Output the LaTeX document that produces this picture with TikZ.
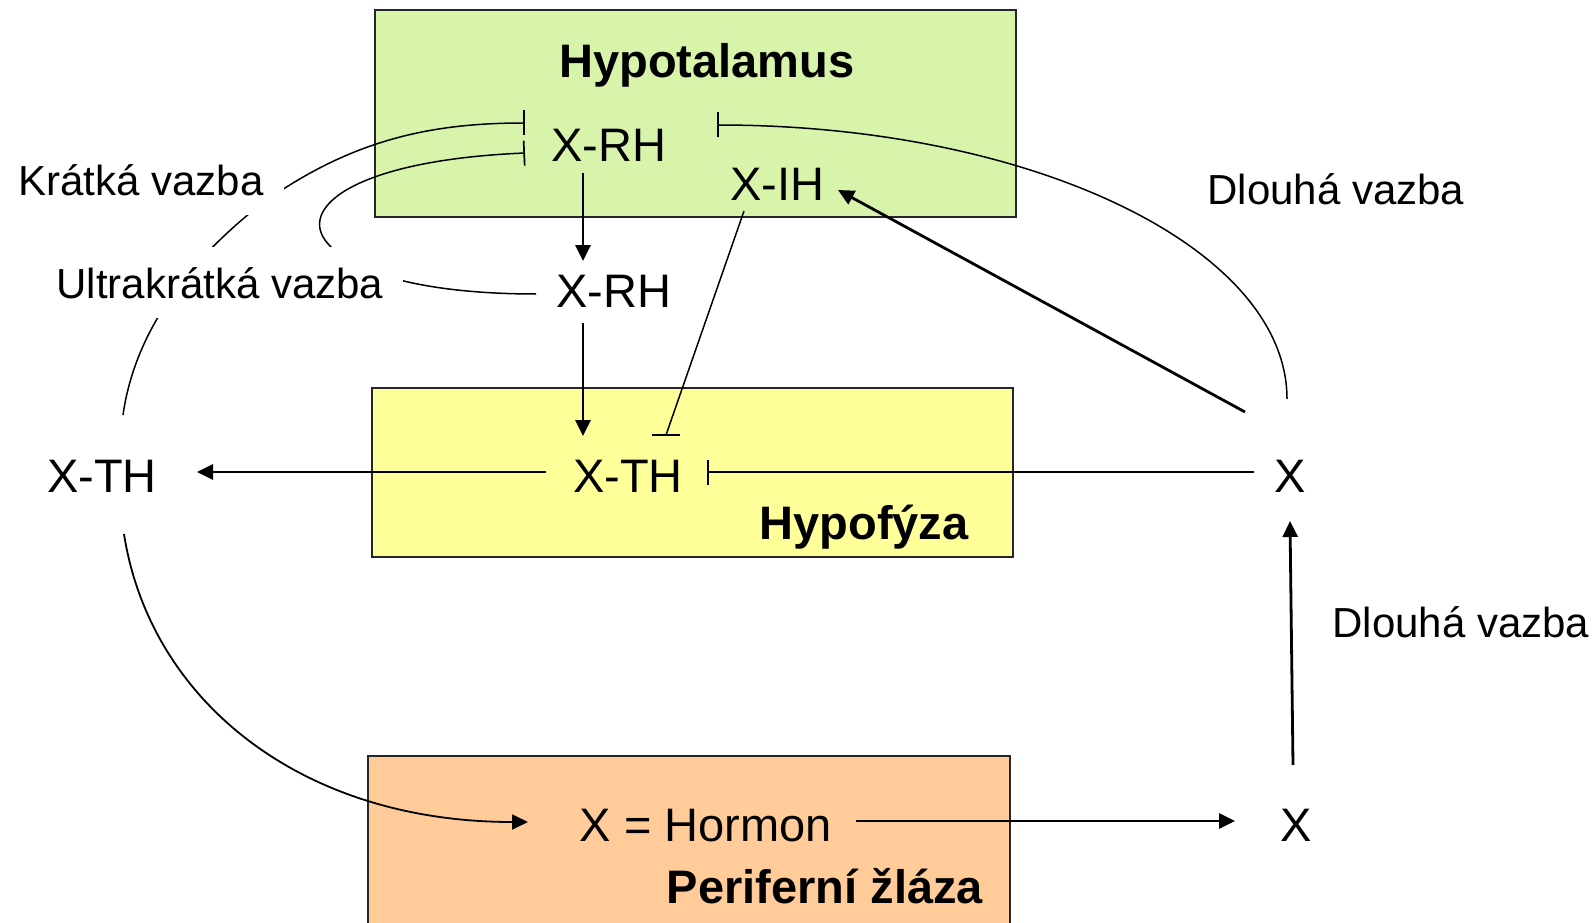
\documentclass[tikz,border=0pt]{standalone}
\usepackage{fontspec}
\setmainfont{Liberation Sans}
\usetikzlibrary{arrows.meta,calc}
\definecolor{hypo}{RGB}{216,243,170}
\definecolor{hypf}{RGB}{255,255,153}
\definecolor{peri}{RGB}{255,204,153}
\begin{document}
\begin{tikzpicture}[x=1pt,y=-1pt,
  big/.style={font=\fontsize{47}{56}\selectfont, anchor=base, inner sep=0pt},
  bigb/.style={anchor=base, inner sep=0pt, font=\fontsize{47}{56}\selectfont\bfseries},
  lab/.style={font=\fontsize{42}{50}\selectfont, anchor=base, fill=white, inner sep=20pt},
  labn/.style={font=\fontsize{42}{50}\selectfont, anchor=base, inner sep=0pt},
  box/.style={draw=black!85, line width=1.5pt},
  thinline/.style={line width=1.5pt},
  arr/.style={line width=2.8pt, -{Triangle[length=16pt,width=15pt]}},
  inh/.style={line width=1.5pt, -{Bar[width=25pt,line width=1.7pt]}}
]
\useasboundingbox (0,0) rectangle (1595,923);
\clip (0,0) rectangle (1595,923);
\fill[white] (0,0) rectangle (1595,923);

% boxes
\draw[box, fill=hypo] (375,10) rectangle (1016,217);
\draw[box, fill=hypf] (372,388) rectangle (1013,557);
\draw[box, fill=peri] (368,756) rectangle (1010,945);

% texts
\node[bigb] (hyp) at (707,78) {Hypotalamus};
\node[big] (rh1) at (609,161) {X-RH};
\node[big] (ih) at (777,200) {X-IH};
\node[big] (rh2) at (614,307) {X-RH};
\node[big] (th) at (628,492) {X-TH};
\node[bigb] (hpf) at (864,539) {Hypofýza};
\node[big] (thl) at (102,492) {X-TH};
\node[big] (xr) at (1290,492) {X};
\node[big] (hor) at (706,841) {X = Hormon};
\node[bigb] (per) at (825,903) {Periferní žláza};
\node[big] (xb) at (1296,841) {X};
\node[labn] (dl1) at (1336,204) {Dlouhá vazba};
\node[labn] (dl2) at (1461,637) {Dlouhá vazba};

% connector end points
\coordinate (rh1s) at (583,173);
\coordinate (rh2e) at (583,261);
\coordinate (rh2s) at (583,323);
\coordinate (the) at (583,436);
\coordinate (ths) at (546,472);
\coordinate (thle) at (197,472);
\coordinate (xrs) at (1254,472);
\coordinate (thbar) at (707,472);
\coordinate (ihs) at (744,211);
\coordinate (ihe) at (666,435);
\coordinate (xri) at (1245,412);
\coordinate (ihin) at (838,190);
\coordinate (xbs) at (1293,765);
\coordinate (xre) at (1290,521);
\coordinate (hors) at (856,821);
\coordinate (xbe) at (1235,821);
\coordinate (lfs) at (1287,399);
\coordinate (lfe) at (717,125);
\coordinate (kfs) at (123,415);
\coordinate (kfe) at (525,123);
\coordinate (ufs) at (536,294);
\coordinate (ufe) at (525,153);
\coordinate (thld) at (124,534);
\coordinate (hore) at (528,822);

% straight arrows
\draw[arr] (rh1s) -- (rh2e);
\draw[arr] (rh2s) -- (the);
\draw[arr] (ths) -- (thle);
\draw[arr] (xri) -- (ihin);
\draw[arr] (xbs) -- (xre);
\draw[arr] (hors) -- (xbe);

% inhibitions
\draw[inh] (xrs) -- (thbar);
\draw[thinline] (ihs) -- (ihe);
\draw[line width=1.7pt] ($(ihe)+(-14,0)$) -- ($(ihe)+(14,0)$);

% long feedback
\draw[inh] (lfs) .. controls (1287,248) and (1032,125) .. (lfe);

% short feedback
\draw[inh] (kfs) .. controls (135,330) and (190,260) .. (260,205)
  .. controls (350,140) and (430,123) .. (kfe);

% ultrashort feedback
\draw[inh] (ufs) .. controls (430,294) and (350,275) .. (325,240)
  .. controls (300,205) and (360,160) .. (ufe);

% X-TH to hormone
\draw[line width=1.8pt, -{Triangle[length=16pt,width=15pt]}] (thld) .. controls (150,700) and (300,822) .. (hore);

% masking labels
\node[lab] (kv) at (141,195) {Krátká vazba};
\node[lab] (uv) at (220,298) {Ultrakrátká vazba};
\end{tikzpicture}
\end{document}
